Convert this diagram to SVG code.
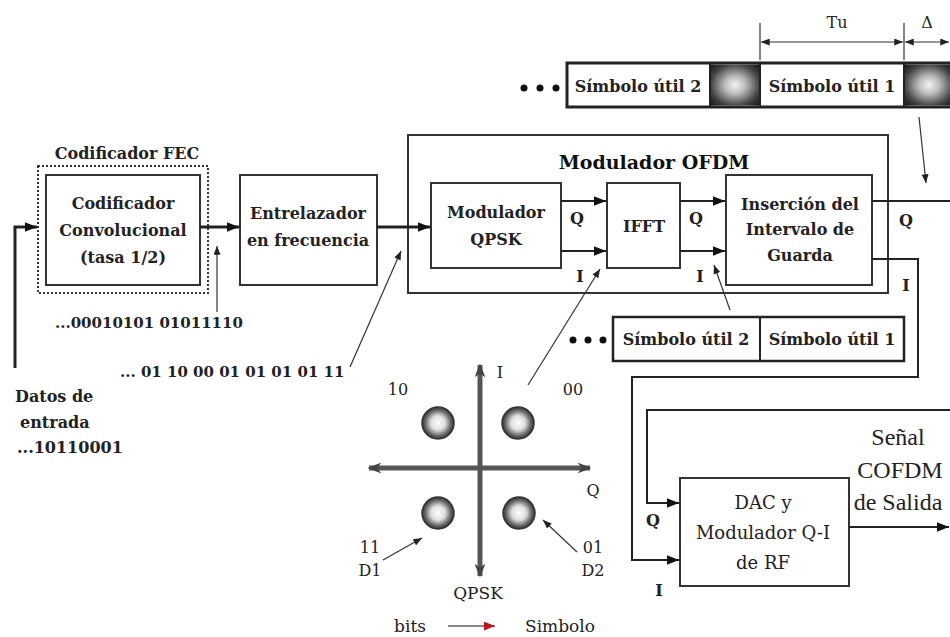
<svg xmlns="http://www.w3.org/2000/svg" width="950" height="637" viewBox="0 0 950 637">
<defs>
<style>
.b{font-family:"DejaVu Serif","Liberation Serif",serif;font-weight:bold;font-size:16px;fill:#222;}
.n{font-size:15px;}
.t{font-family:"DejaVu Serif","Liberation Serif",serif;font-weight:bold;font-size:19px;fill:#111;}
.r{font-family:"DejaVu Serif","Liberation Serif",serif;font-size:16px;fill:#222;}
.d{font-family:"DejaVu Serif","Liberation Serif",serif;font-size:18px;fill:#222;}
.s{font-family:"Liberation Serif","DejaVu Serif",serif;font-size:24px;fill:#222;}
.m{text-anchor:middle;}
.box{fill:#fff;stroke:#333;stroke-width:2;}
.thick{fill:none;stroke:#222;stroke-width:3;}
.med{fill:none;stroke:#222;stroke-width:2;}
.thin{fill:none;stroke:#333;stroke-width:1.2;}
</style>
<marker id="ah" viewBox="0 0 10 8" refX="10" refY="4" markerWidth="12" markerHeight="10" markerUnits="userSpaceOnUse" orient="auto"><path d="M0,0 L10,4 L0,8 z" fill="#111"/></marker>
<marker id="ahs" viewBox="0 0 10 8" refX="10" refY="4" markerWidth="9" markerHeight="7" markerUnits="userSpaceOnUse" orient="auto-start-reverse"><path d="M0,0 L10,4 L0,8 z" fill="#222"/></marker>
<marker id="ax" viewBox="0 0 10 8" refX="9" refY="4" markerWidth="14" markerHeight="11" markerUnits="userSpaceOnUse" orient="auto-start-reverse"><path d="M0,0 L10,4 L0,8 L3,4 z" fill="#444"/></marker>
<marker id="ar" viewBox="0 0 10 8" refX="10" refY="4" markerWidth="11" markerHeight="9" markerUnits="userSpaceOnUse" orient="auto"><path d="M0,0 L10,4 L0,8 z" fill="#c0101a"/></marker>
<radialGradient id="ball" cx="0.5" cy="0.5" r="0.5">
<stop offset="0" stop-color="#fff"/><stop offset="0.45" stop-color="#ddd"/><stop offset="0.8" stop-color="#666"/><stop offset="1" stop-color="#333"/>
</radialGradient>
<radialGradient id="sq" cx="0.5" cy="0.5" r="0.72">
<stop offset="0" stop-color="#f4f4f4"/><stop offset="0.3" stop-color="#bbb"/><stop offset="0.7" stop-color="#444"/><stop offset="1" stop-color="#111"/>
</radialGradient>
</defs>
<rect width="950" height="637" fill="#fff"/>

<g id="fec">
<text class="b m" x="127" y="159">Codificador FEC</text>
<rect x="38" y="166" width="170" height="127" fill="none" stroke="#333" stroke-width="2" stroke-dasharray="2,2"/>
</g>
<g id="conv">
<rect class="box" x="46" y="175" width="154" height="110"/>
<text class="b m" x="123" y="209">Codificador</text>
<text class="b m" x="123" y="236">Convolucional</text>
<text class="b m" x="123" y="263">(tasa 1/2)</text>
</g>
<g id="entrelazador">
<rect class="box" x="240" y="175" width="137" height="110"/>
<text class="b m" x="308" y="219">Entrelazador</text>
<text class="b m" x="308" y="246">en frecuencia</text>
</g>
<g id="ofdm">
<rect class="box" x="408" y="135" width="480" height="158"/>
<text class="t m" x="654" y="169">Modulador OFDM</text>
</g>
<g id="qpsk">
<rect class="box" x="431" y="183" width="130" height="85"/>
<text class="b m" x="496" y="218">Modulador</text>
<text class="b m" x="496" y="245">QPSK</text>
</g>
<g id="ifft">
<rect class="box" x="607" y="183" width="73" height="85"/>
<text class="b m" x="644" y="232">IFFT</text>
</g>
<g id="insercion">
<rect class="box" x="726" y="175" width="146" height="110"/>
<text class="b m" x="800" y="210">Inserción del</text>
<text class="b m" x="800" y="235">Intervalo de</text>
<text class="b m" x="800" y="261">Guarda</text>
</g>
<g id="dac">
<rect class="box" x="680" y="478" width="169" height="108"/>
<text class="d m" x="763" y="509">DAC y</text>
<text class="d m" x="763" y="539">Modulador Q-I</text>
<text class="d m" x="763" y="569">de RF</text>
</g>
<g id="strip-top">
<circle cx="524" cy="88" r="3.5" fill="#111"/><circle cx="540" cy="88" r="3.5" fill="#111"/><circle cx="556" cy="88" r="3.5" fill="#111"/>
<rect x="567" y="63" width="390" height="44" fill="#fff" stroke="#222" stroke-width="3"/>
<rect x="711" y="64.5" width="48" height="41" fill="url(#sq)"/>
<rect x="905" y="64.5" width="48" height="41" fill="url(#sq)"/>
<line x1="710" y1="63" x2="710" y2="107" stroke="#222" stroke-width="2"/>
<line x1="760" y1="63" x2="760" y2="107" stroke="#222" stroke-width="2"/>
<line x1="904" y1="63" x2="904" y2="107" stroke="#222" stroke-width="2"/>
<text class="b m" x="638" y="92">Símbolo útil 2</text>
<text class="b m" x="832" y="92">Símbolo útil 1</text>
</g>
<g id="dimensions">
<line class="thin" x1="760" y1="23" x2="760" y2="60"/>
<line class="thin" x1="904" y1="23" x2="904" y2="60"/>
<line class="thin" x1="761" y1="42" x2="903" y2="42" marker-start="url(#ahs)" marker-end="url(#ahs)"/>
<line class="thin" x1="905" y1="42" x2="949" y2="42" marker-start="url(#ahs)" marker-end="url(#ahs)"/>
<text class="r m" x="837" y="28">Tu</text>
<text class="r m" x="927" y="28">Δ</text>
</g>
<g id="strip-bottom">
<circle cx="573" cy="340" r="3.5" fill="#111"/><circle cx="588" cy="340" r="3.5" fill="#111"/><circle cx="603" cy="340" r="3.5" fill="#111"/>
<rect x="613" y="317" width="291" height="44" fill="#fff" stroke="#222" stroke-width="2.5"/>
<line x1="760" y1="317" x2="760" y2="361" stroke="#222" stroke-width="2"/>
<text class="b m" x="686" y="345">Símbolo útil 2</text>
<text class="b m" x="832" y="345">Símbolo útil 1</text>
</g>
<g id="constellation">
<line x1="480" y1="576" x2="480" y2="365" stroke="#555" stroke-width="5" marker-start="url(#ax)" marker-end="url(#ax)"/>
<line x1="369" y1="468" x2="590" y2="468" stroke="#555" stroke-width="5" marker-start="url(#ax)" marker-end="url(#ax)"/>
<circle cx="438" cy="423" r="16" fill="url(#ball)" stroke="#333" stroke-width="1.5"/>
<circle cx="518" cy="423" r="16" fill="url(#ball)" stroke="#333" stroke-width="1.5"/>
<circle cx="438" cy="513" r="16" fill="url(#ball)" stroke="#333" stroke-width="1.5"/>
<circle cx="519" cy="513" r="16" fill="url(#ball)" stroke="#333" stroke-width="1.5"/>
<text class="r m" x="500" y="378">I</text>
<text class="r m" x="593" y="496">Q</text>
<text class="r m" x="398" y="395">10</text>
<text class="r m" x="573" y="395">00</text>
<text class="r m" x="370" y="553">11</text>
<text class="r m" x="370" y="576">D1</text>
<text class="r m" x="593" y="553">01</text>
<text class="r m" x="593" y="576">D2</text>
<text class="r m" x="478" y="599" style="font-size:17px">QPSK</text>
<text class="r m" x="410" y="632" style="font-size:17px">bits</text>
<text class="r m" x="560" y="632" style="font-size:17px">Simbolo</text>
<line x1="383" y1="560" x2="422" y2="538" stroke="#333" stroke-width="1.2" marker-end="url(#ahs)"/>
<line x1="577" y1="552" x2="543" y2="520" stroke="#333" stroke-width="1.2" marker-end="url(#ahs)"/>
<line x1="448" y1="626" x2="495" y2="626" stroke="#888" stroke-width="2" marker-end="url(#ar)"/>
</g>
<g id="texts">
<text class="b n" x="55" y="328">...00010101 01011110</text>
<text class="b n" x="120" y="377">... 01 10 00 01 01 01 01 11</text>
<text class="b" x="15" y="402">Datos de</text>
<text class="b" x="20" y="428">entrada</text>
<text class="b" x="17" y="453">...10110001</text>
<text class="b m" x="577" y="224">Q</text>
<text class="b m" x="580" y="282">I</text>
<text class="b m" x="696" y="224">Q</text>
<text class="b m" x="700" y="282">I</text>
<text class="b m" x="906" y="226">Q</text>
<text class="b m" x="906" y="291">I</text>
<text class="b m" x="653" y="526">Q</text>
<text class="b m" x="659" y="596">I</text>
<text class="s m" x="898" y="445">Señal</text>
<text class="s m" x="900" y="478">COFDM</text>
<text class="s m" x="898" y="510">de Salida</text>
</g>
<g id="connectors">
<polyline class="thick" points="15,368 15,227 37,227" marker-end="url(#ah)"/>
<line class="thick" x1="200" y1="227" x2="239" y2="227" marker-end="url(#ah)"/>
<line class="thick" x1="377" y1="227" x2="430" y2="227" marker-end="url(#ah)"/>
<line class="med" x1="561" y1="201" x2="606" y2="201" marker-end="url(#ah)"/>
<line class="med" x1="561" y1="251" x2="606" y2="251" marker-end="url(#ah)"/>
<line class="med" x1="680" y1="201" x2="725" y2="201" marker-end="url(#ah)"/>
<line class="med" x1="680" y1="251" x2="725" y2="251" marker-end="url(#ah)"/>
<line class="med" x1="872" y1="201" x2="950" y2="201"/>
<polyline class="med" points="872,259 918,259 918,377 632,377 632,560 679,560" marker-end="url(#ah)"/>
<polyline class="med" points="950,410 647,410 647,503 679,503" marker-end="url(#ah)"/>
<line class="med" x1="849" y1="527" x2="949" y2="527" marker-end="url(#ah)"/>
<line class="thin" x1="217" y1="312" x2="217" y2="246" marker-end="url(#ahs)"/>
<line class="thin" x1="350" y1="367" x2="401" y2="251" marker-end="url(#ahs)"/>
<line class="thin" x1="528" y1="385" x2="600" y2="269" marker-end="url(#ahs)"/>
<line class="thin" x1="730" y1="310" x2="714" y2="265" marker-end="url(#ahs)"/>
<line class="thin" x1="919" y1="117" x2="926" y2="183" marker-end="url(#ahs)"/>
</g>
</svg>
